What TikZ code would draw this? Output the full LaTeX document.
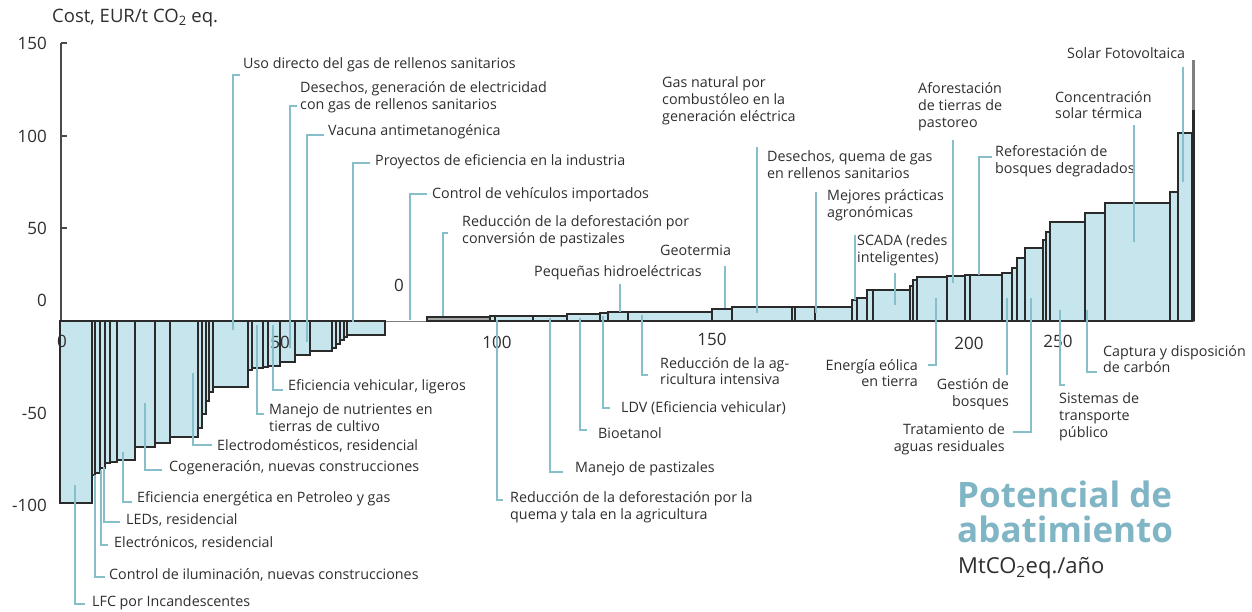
\documentclass[tikz,border=0pt]{standalone}
\usepackage{fontspec}
\setmainfont{Open Sans}
\definecolor{barfill}{HTML}{C7E5ED}
\definecolor{barline}{HTML}{2A2A2A}
\definecolor{leadc}{HTML}{86BFC9}
\definecolor{txt}{HTML}{2E2E2E}
\definecolor{titlec}{HTML}{7FB5C4}
\begin{document}
\begin{tikzpicture}[x=1pt,y=-1pt,
  bar/.style={fill=barfill,draw=barline,line width=1.2pt},
  leader/.style={draw=leadc,line width=1.5pt},
  lbl/.style={inner sep=0pt,font=\fontsize{14.3}{16.8}\selectfont,text=txt,align=left},
  lblr/.style={inner sep=0pt,font=\fontsize{14.3}{16.8}\selectfont,text=txt,align=right},
  ticklbl/.style={inner sep=0pt,font=\fontsize{17}{17}\selectfont,text=txt}]
\useasboundingbox (0,0) rectangle (1252,611);
% baseline and axis
\draw[gray,line width=1pt] (60,321) -- (1195,321);
\draw[barline!85,line width=2.5pt] (61,43) -- (61,321);
\foreach \yy in {43,136,228} \draw[barline!85,line width=1.5pt] (61,\yy) -- (67,\yy);
% negative bars
\foreach \a/\b/\c in {60/92/503, 92/95/475, 95/100/473, 100/105/468, 105/110/463, 110/117/462, 117/135/460, 135/155/447, 155/170/443, 170/198/437, 198/202/428, 202/206/414, 206/209/401, 209/213/392, 213/248/387, 248/252/370, 252/263/368, 263/268/367, 268/280/366, 280/295/362, 295/310/355, 310/332/351, 332/336/348, 336/340/344, 340/344/340, 344/347/337, 347/385/335}
  \draw[bar] (\a,321) rectangle (\b,\c);
% positive bars
\draw[bar,fill=gray!70] (427,321) rectangle (490,317);
\foreach \a/\b/\c in {490/495/316, 495/533/316, 533/567/316, 567/600/314, 600/608/313, 608/628/312, 628/712/312, 712/732/309, 732/792/307, 792/795/307, 795/815/307, 815/852/307, 852/857/300, 857/867/298, 867/873/290, 873/910/290, 910/913/286, 913/917/280, 917/947/277, 947/965/276, 965/970/275, 970/1002/275, 1002/1012/273, 1012/1017/268, 1017/1025/258, 1025/1043/248, 1043/1046/240, 1046/1050/232, 1050/1085/222, 1085/1105/213, 1105/1170/203, 1170/1178/192, 1178/1192/133}
  \draw[bar] (\a,321) rectangle (\b,\c);
\draw[barline,line width=3pt] (1193.5,321) -- (1193.5,110);
\draw[gray,line width=3pt] (1193.5,110) -- (1193.5,60);
% axis texts
\node[anchor=west,inner sep=0pt,font=\fontsize{18.5}{19}\selectfont,text=txt] (ytitle) at (52,18) {Cost, EUR/t CO\textsubscript{2} eq.};
\node[ticklbl,anchor=east] (y150) at (47,43) {150};
\node[ticklbl,anchor=east] (y100) at (47,136) {100};
\node[ticklbl,anchor=east] (y50) at (47,228) {50};
\node[ticklbl,anchor=east] (y0) at (47,300) {0};
\node[ticklbl,anchor=east] (ym50) at (47,413) {-50};
\node[ticklbl,anchor=east] (ym100) at (47,505) {-100};
\node[ticklbl] (x0) at (62,341) {0};
\node[ticklbl] (x50) at (280,342) {50};
\node[ticklbl] (x100) at (497,342) {100};
\node[ticklbl] (x150) at (712,339) {150};
\node[ticklbl] (x200) at (969,343) {200};
\node[ticklbl] (x250) at (1058,341) {250};
\node[ticklbl] (xz) at (399,285) {0};
\node[anchor=west,inner sep=0pt,align=left,font=\fontsize{35}{35}\selectfont\bfseries,text=titlec] (pot) at (957,512) {Potencial de\\abatimiento};
\node[anchor=west,inner sep=0pt,font=\fontsize{22}{22}\selectfont,text=txt] (unit) at (958,568) {MtCO\textsubscript{2}eq./año};
% top labels
\node[lbl,anchor=west] (l1) at (243,65) {Uso directo del gas de rellenos sanitarios};
\node[lbl,anchor=west] (l2) at (300,97.5) {Desechos, generación de electricidad\\con gas de rellenos sanitarios};
\node[lbl,anchor=west] (l3) at (328,132) {Vacuna antimetanogénica};
\node[lbl,anchor=west] (l4) at (375,162) {Proyectos de eficiencia en la industria};
\node[lbl,anchor=west] (l5) at (432,195) {Control de vehículos importados};
\node[lbl,anchor=west] (l6) at (462,231.5) {Reducción de la deforestación por\\conversión de pastizales};
\node[lbl,anchor=west] (l7) at (534,273) {Pequeñas hidroeléctricas};
\node[lbl,anchor=west] (l8) at (660,250) {Geotermia};
\node[lbl,anchor=west] (l9) at (662,101) {Gas natural por\\combustóleo en la\\generación eléctrica};
\node[lbl,anchor=west] (l10) at (767,165) {Desechos, quema de gas\\en rellenos sanitarios};
\node[lbl,anchor=west] (l11) at (827,205) {Mejores prácticas\\agronómicas};
\node[lbl,anchor=west] (l12) at (857,250) {SCADA (redes\\inteligentes)};
\node[lbl,anchor=west] (l13) at (918,107) {Aforestación\\de tierras de\\pastoreo};
\node[lbl,anchor=west] (l14) at (995,161) {Reforestación de\\bosques degradados};
\node[lbl,anchor=west] (l15) at (1055,105) {Concentración\\solar térmica};
\node[lbl,anchor=west] (l16) at (1067,53) {Solar Fotovoltaica};
% bottom labels
\node[lbl,anchor=west] (b1) at (288,387) {Eficiencia vehicular, ligeros};
\node[lbl,anchor=west] (b2) at (269,418) {Manejo de nutrientes en\\tierras de cultivo};
\node[lbl,anchor=west] (b3) at (217,446) {Electrodomésticos, residencial};
\node[lbl,anchor=west] (b4) at (169,468) {Cogeneración, nuevas construcciones};
\node[lbl,anchor=west] (b5) at (137,499) {Eficiencia energética en Petroleo y gas};
\node[lbl,anchor=west] (b6) at (126,520) {LEDs, residencial};
\node[lbl,anchor=west] (b7) at (114,543) {Electrónicos, residencial};
\node[lbl,anchor=west] (b8) at (109,575) {Control de iluminación, nuevas construcciones};
\node[lbl,anchor=west] (b9) at (92,603) {LFC por Incandescentes};
\node[lbl,anchor=west] (b10) at (510,507) {Reducción de la deforestación por la\\quema y tala en la agricultura};
\node[lbl,anchor=west] (b11) at (575,469) {Manejo de pastizales};
\node[lbl,anchor=west] (b12) at (598,433) {Bioetanol};
\node[lbl,anchor=west] (b13) at (621,408) {LDV (Eficiencia vehicular)};
\node[lbl,anchor=west] (b14) at (660,371) {Reducción de la ag-\\ricultura intensiva};
\node[lblr,anchor=east] (b15) at (918,373) {Energía eólica\\en tierra};
\node[lblr,anchor=east] (b16) at (1009,394) {Gestión de\\bosques};
\node[lblr,anchor=east] (b17) at (1005,439) {Tratamiento de\\aguas residuales};
\node[lbl,anchor=west] (b18) at (1059,417) {Sistemas de\\transporte\\público};
\node[lbl,anchor=west] (b19) at (1103,359) {Captura y disposición\\de carbón};
% leaders (top)
\draw[leader] (240,75) -| (233,330);
\draw[leader] (297,106) -| (290,348);
\draw[leader] (324,135) -| (307,342);
\draw[leader] (370,163) -| (353,322);
\draw[leader] (427,194) -| (410,320);
\draw[leader] (448,233) -| (443,316);
\draw[leader] (620,284) -- (620,312);
\draw[leader] (725,266) -- (725,308);
\draw[leader] (757,147) -- (757,313);
\draw[leader] (816,192) -- (816,313);
\draw[leader] (855,235) -- (855,300);
\draw[leader] (895,273) -- (895,305);
\draw[leader] (953,140) -- (953,283);
\draw[leader] (992,157) -| (979,275);
\draw[leader] (1134,125) -- (1134,242);
\draw[leader] (1183,67) -- (1183,182);
% leaders (bottom)
\draw[leader] (283,390) -| (273,325);
\draw[leader] (264,414) -| (257,325);
\draw[leader] (212,445) -| (193,373);
\draw[leader] (162,470) -| (145,403);
\draw[leader] (132,502) -| (123,452);
\draw[leader] (120,522) -| (104,467);
\draw[leader] (108,545) -| (101,470);
\draw[leader] (105,577) -| (95,475);
\draw[leader] (85,604) -| (75,485);
\draw[leader] (503,500) -| (497,320);
\draw[leader] (563,472) -| (550,318);
\draw[leader] (587,430) -| (580,318);
\draw[leader] (610,408) -| (603,316);
\draw[leader] (648,375) -| (642,315);
\draw[leader] (928,365) -| (936,298);
\draw[leader] (1007,375) -- (1007,298);
\draw[leader] (1013,432) -| (1031,298);
\draw[leader] (1065,385) -| (1060,310);
\draw[leader] (1097,372) -| (1087,310);
\end{tikzpicture}
\end{document}
